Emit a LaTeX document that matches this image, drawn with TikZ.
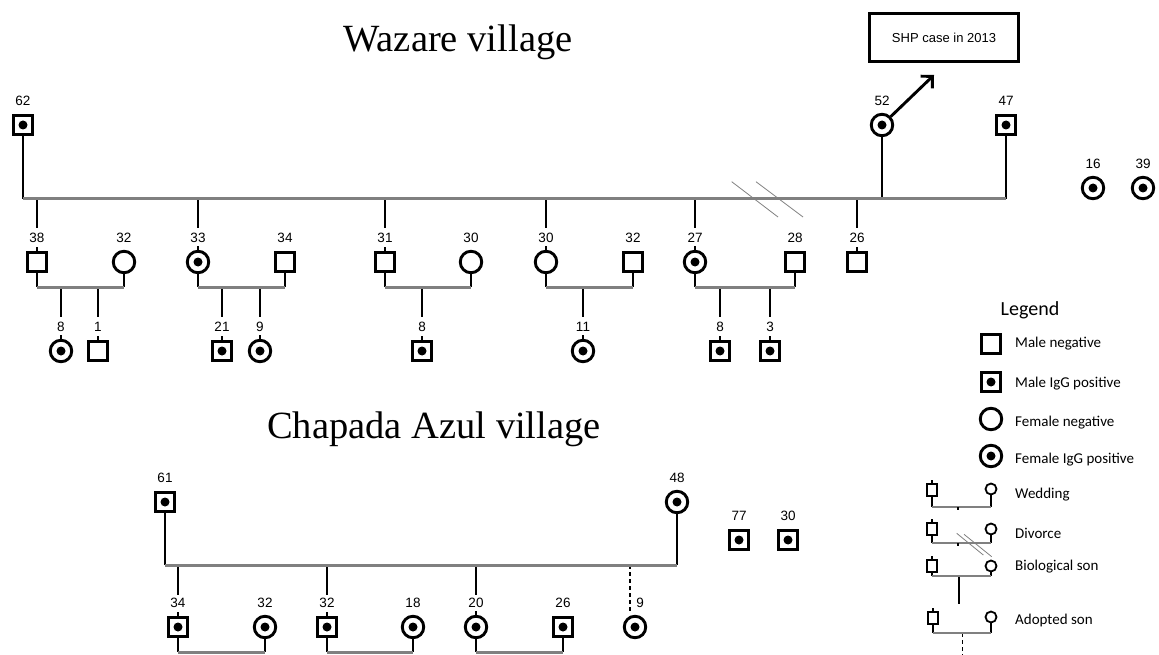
\documentclass[tikz,border=0pt]{standalone}
\usepackage{fontspec}
\setmainfont{Liberation Serif}
\setsansfont{Liberation Sans}
\newfontfamily\calib{Carlito}
\usetikzlibrary{arrows.meta}
\definecolor{lgray}{RGB}{128,128,128}
\begin{document}
\begin{tikzpicture}[x=1pt,y=-1pt,
  kid/.style={line width=2.9pt,black},
  sib/.style={line width=3pt,lgray},
  slash/.style={line width=0.8pt,lgray},
  adopt/.style={line width=1.3pt,black,dash pattern=on 4pt off 3pt},
  male/.style={rectangle,draw,line width=2.9pt,minimum size=19.5pt,inner sep=0pt,fill=white},
  female/.style={circle,draw,line width=2.9pt,minimum size=21.5pt,inner sep=0pt,fill=white},
  igpos/.style={path picture={\fill[black] (path picture bounding box.center) circle (4.5pt);}},
  age/.style={font=\sffamily\fontsize{13.5}{14}\selectfont,inner sep=1pt},
  lab/.style={append after command={([yshift=24pt]\tikzlastnode.center) node[age]{#1}}},
  labr/.style={append after command={([yshift=24pt,xshift=5pt]\tikzlastnode.center) node[age]{#1}}},
  title/.style={font=\fontsize{38.5}{40}\selectfont,inner sep=0pt,anchor=base},
  lmale/.style={rectangle,draw,line width=1.8pt,minimum width=10pt,minimum height=12pt,inner sep=0pt,fill=white},
  lfemale/.style={circle,draw,line width=1.8pt,minimum size=11pt,inner sep=0pt,fill=white},
  lkid/.style={line width=1.8pt,black},
  lsib/.style={line width=1.8pt,lgray},
  legtext/.style={font=\calib\fontsize{15}{17}\selectfont,anchor=west,inner sep=0pt}
]
\useasboundingbox (0,0) rectangle (1159,655);

% ---------------- Titles ----------------
\node[title] (tW) at (458,52) {Wazare village};
\node[title] (tC) at (434,438) {Chapada Azul village};

% ---------------- Wazare village ----------------
\node[male,igpos,lab=62] (w62) at (23,125) {};
\node[female,igpos,lab=52] (w52) at (882,125) {};
\node[male,igpos,lab=47] (w47) at (1006,125) {};
\node[female,igpos,lab=16] (w16) at (1093,188) {};
\node[female,igpos,lab=39] (w39) at (1143,188) {};

\node[draw,line width=2.8pt,minimum width=149pt,minimum height=48pt,inner sep=0pt,
      font=\sffamily\fontsize{13}{15}\selectfont] (shp) at (944,37.5) {SHP case in 2013};
\coordinate (tip) at (934,75);
\draw[kid,-{Straight Barb[angle=90:12pt]}] (w52) -- (tip);

\coordinate (W0) at (23,199);
\coordinate (W1) at (1006,199);

% generation 2
\node[male,lab=38] (w38) at (37,262) {};
\node[female,lab=32] (w32a) at (124,262) {};
\node[female,igpos,lab=33] (w33) at (198,262) {};
\node[male,lab=34] (w34) at (285,262) {};
\node[male,lab=31] (w31) at (385,262) {};
\node[female,lab=30] (w30a) at (471,262) {};
\node[female,lab=30] (w30b) at (546,262) {};
\node[male,lab=32] (w32b) at (633,262) {};
\node[female,igpos,lab=27] (w27) at (695,262) {};
\node[male,lab=28] (w28) at (795,262) {};
\node[male,lab=26] (w26) at (857,262) {};

% generation 3
\node[female,igpos,lab=8] (w8a) at (61,351) {};
\node[male,lab=1] (w1) at (98,351) {};
\node[male,igpos,lab=21] (w21) at (222,351) {};
\node[female,igpos,lab=9] (w9) at (260,351) {};
\node[male,igpos,lab=8] (w8b) at (422,351) {};
\node[female,igpos,lab=11] (w11) at (583,351) {};
\node[male,igpos,lab=8] (w8c) at (720,351) {};
\node[male,igpos,lab=3] (w3) at (770,351) {};

% parents to main line
\draw[kid] (w62) -- (W0);
\draw[kid] (w52) -- (w52 |- W0);
\draw[kid] (w47) -- (W1);
% drops from main line
\foreach \n in {w38,w33,w31,w30b,w27,w26}{
  \draw[kid] (W0 -| \n) -- ++(0,29);
  \draw[kid] (\n.north) -- ++(0,-3.5);
}
\draw[sib] (W0) -- (W1);
\draw[slash] (731.7,181.7) -- (778,217);
\draw[slash] (756,181.7) -- (803,217);

% couples
\foreach \a/\b/\i in {w38/w32a/1,w33/w34/2,w31/w30a/3,w30b/w32b/4,w27/w28/5}{
  \coordinate (pl\i) at ([yshift=-25pt]\a.center);
  \coordinate (pr\i) at ([yshift=-25pt]\b.center);
  \draw[kid] (\a) -- (pl\i);
  \draw[kid] (\b) -- (pr\i);
}
\foreach \i/\k in {1/w8a,1/w1,2/w21,2/w9,3/w8b,4/w11,5/w8c,5/w3}{
  \draw[kid] (pl\i -| \k) -- ++(0,30);
  \draw[kid] (\k.north) -- ++(0,-3.5);
}
\foreach \i in {1,...,5}{\draw[sib] (pl\i) -- (pr\i);}

% ---------------- Chapada Azul village ----------------
\node[male,igpos,lab=61] (c61) at (165,502) {};
\node[female,igpos,lab=48] (c48) at (677,502) {};
\node[male,igpos,lab=77] (c77) at (739,540) {};
\node[male,igpos,lab=30] (c30) at (788,540) {};
\coordinate (C0) at (165,565);
\coordinate (C1) at (677,565);

\node[male,igpos,lab=34] (c34) at (178,627) {};
\node[female,igpos,lab=32] (c32a) at (265,627) {};
\node[male,igpos,lab=32] (c32b) at (327,627) {};
\node[female,igpos,lab=18] (c18) at (413,627) {};
\node[female,igpos,lab=20] (c20) at (476,627) {};
\node[male,igpos,lab=26] (c26) at (563,627) {};
\node[female,igpos,labr=9] (c9) at (635,627) {};

\draw[kid] (c61) -- (C0);
\draw[kid] (c48) -- (C1);
\foreach \n in {c34,c32b,c20}{
  \draw[kid] (C0 -| \n) -- ++(0,30);
  \draw[kid] (\n.north) -- ++(0,-3.5);
}
\coordinate (c9top) at (630,565);
\draw[adopt] (c9top) -- ++(0,48);
\draw[sib] (C0) -- (C1);

\foreach \a/\b/\i in {c34/c32a/1,c32b/c18/2,c20/c26/3}{
  \coordinate (ql\i) at ([yshift=-25pt]\a.center);
  \coordinate (qr\i) at ([yshift=-25pt]\b.center);
  \draw[kid] (\a) -- (ql\i);
  \draw[kid] (\b) -- (qr\i);
  \draw[sib] (ql\i) -- (qr\i);
}

% ---------------- Legend ----------------
\node[font=\calib\fontsize{20}{22}\selectfont,inner sep=0pt] (leg) at (1030,310) {Legend};
\node[male] (lg1) at (991,344) {};
\node[male,igpos] (lg2) at (991,382) {};
\node[female] (lg3) at (991,419) {};
\node[female,igpos] (lg4) at (991,456) {};
\node[legtext] (lt1) at (1015,344) {Male negative};
\node[legtext] (lt2) at (1015,384) {Male IgG positive};
\node[legtext] (lt3) at (1015,423) {Female negative};
\node[legtext] (lt4) at (1015,460) {Female IgG positive};

% wedding
\node[lmale] (wm) at (932,490) {};
\node[lfemale] (wf) at (991,489) {};
\coordinate (wl) at (932,507); \coordinate (wr) at (991,507);
\draw[lkid] (wm) -- (wl); \draw[lkid] (wf) -- (wr); \draw[lkid] (wm.north) -- ++(0,-3);
\draw[lsib] (wl) -- (wr);
\draw[line width=1.5pt] (958,507) -- (958,510);
\node[legtext] (lt5) at (1015,495) {Wedding};

% divorce
\node[lmale] (dm) at (932,529) {};
\node[lfemale] (df) at (991,529) {};
\coordinate (dl) at (932,543); \coordinate (dr) at (991,543);
\draw[lkid] (dm) -- (dl); \draw[lkid] (df) -- (dr); \draw[lkid] (dm.north) -- ++(0,-3);
\draw[lsib] (dl) -- (dr);
\draw[line width=1.5pt] (958,543) -- (958,546);
\draw[slash] (956.7,533.3) -- (983.3,555);
\draw[slash] (964,534.3) -- (991.7,556.7);
\node[legtext] (lt6) at (1015,533) {Divorce};

% biological son
\node[lmale] (bm) at (932,566) {};
\node[lfemale] (bf) at (991,566) {};
\coordinate (bl) at (932,576); \coordinate (br) at (991,576);
\coordinate (bk) at (959,604);
\draw[lkid] (bm) -- (bl); \draw[lkid] (bf) -- (br); \draw[lkid] (bm.north) -- ++(0,-3);
\draw[line width=2.4pt] (bl -| bk) -- (bk);
\draw[lsib] (bl) -- (br);
\node[legtext] (lt7) at (1015,567) {Biological son};

% adopted son
\node[lmale] (am) at (933,618) {};
\node[lfemale] (af) at (991,617) {};
\coordinate (al) at (933,633); \coordinate (ar) at (991,633);
\coordinate (ak) at (962,655);
\draw[lkid] (am) -- (al); \draw[lkid] (af) -- (ar); \draw[lkid] (am.north) -- ++(0,-3);
\draw[adopt,line width=1pt] (al -| ak) -- (ak);
\draw[lsib] (al) -- (ar);
\node[legtext] (lt8) at (1015,620) {Adopted son};
\end{tikzpicture}
\end{document}
